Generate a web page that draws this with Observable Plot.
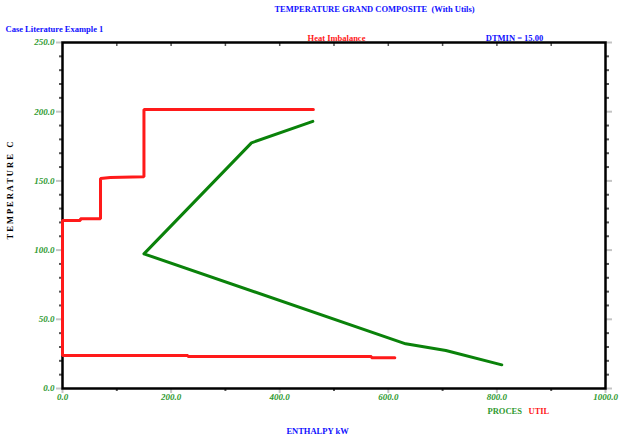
<!DOCTYPE html>
<html><head><meta charset="utf-8">
<script src="https://cdn.jsdelivr.net/npm/d3@7"></script>
<script src="https://cdn.jsdelivr.net/npm/@observablehq/plot@0.6"></script>
<style>body{margin:0;background:#fff}svg{display:block}</style>
</head><body><div id="chart"></div><script>
// Hot/cold utility (UTIL) polyline
const utilEnthalpy = [462, 150, 150, 88, 70, 70, 33, 33, 0, 0, 231, 231, 569, 569, 612];
const utilTemp     = [201.6, 201.6, 153.0, 152.4, 151.7, 122.6, 122.6, 121.4, 121.4, 23.8, 23.8, 23.2, 23.2, 22.3, 22.3];
// Process grand composite (PROCES)
const procEnthalpy = [461, 348, 150, 632, 706, 809];
const procTemp     = [193.0, 177.5, 97.3, 32.3, 27.5, 17.1];

const xMajor = [0, 200, 400, 600, 800, 1000];
const xMinor = [100, 300, 500, 700, 900];
const xTop   = [100, 200, 300, 400, 500, 600, 700, 800, 900];
const yMajor = [0, 50, 100, 150, 200, 250];
const yMinor = [10, 20, 30, 40, 60, 70, 80, 90, 110, 120, 130, 140, 160, 170, 180, 190, 210, 220, 230, 240];

const title = "TEMPERATURE GRAND COMPOSITE  (With Utils)";
const caseText = "Case Literature Example 1";
const imbalanceText = "Heat Imbalance";
const dtminText = "DTMIN = 15.00";
const xTitle = "ENTHALPY kW";
const yTitle = "T E M P E R A T U R E   C";
const procLabel = "PROCES";
const utilLabel = "UTIL";

const util = utilEnthalpy.map((h, i) => ({h, t: utilTemp[i]}));
const proc = procEnthalpy.map((h, i) => ({h, t: procTemp[i]}));

const FONT = "Liberation Serif, Times New Roman, serif";
const BLUE = "#1010ff", GREEN = "#2f9a2f", RED = "#ff1a1a";
const fmt = d => d.toFixed(1);
const lbl = (txt, o) => Plot.text([txt], {text: d => d, fontFamily: FONT, fontWeight: "bold", fontSize: 8.5, ...o});

const chart = Plot.plot({
  width: 623, height: 440,
  marginLeft: 62, marginRight: 18, marginTop: 42, marginBottom: 52,
  style: {fontFamily: FONT, background: "#fff", overflow: "visible"},
  x: {domain: [0, 1000], axis: null},
  y: {domain: [0, 250], axis: null},
  marks: [
    Plot.axisY(yMajor, {anchor: "left", tickSize: 6, tickPadding: 2, stroke: "#c4c4c4", strokeWidth: 2, fill: GREEN, tickFormat: fmt, fontStyle: "italic", fontWeight: "bold", fontSize: 9, label: null}),
    Plot.axisY(yMinor, {anchor: "left", tickSize: 3, stroke: "#555", strokeWidth: 2, tickFormat: () => "", label: null}),
    Plot.axisY(yMajor, {anchor: "right", tickSize: 6, stroke: "#c4c4c4", strokeWidth: 2, tickFormat: () => "", label: null}),
    Plot.axisY(yMinor, {anchor: "right", tickSize: 3, stroke: "#555", strokeWidth: 2, tickFormat: () => "", label: null}),
    Plot.axisX(xMajor, {anchor: "bottom", tickSize: 5, tickPadding: 0, stroke: "#c4c4c4", strokeWidth: 2, fill: GREEN, tickFormat: fmt, fontStyle: "italic", fontWeight: "bold", fontSize: 9, label: null}),
    Plot.axisX(xMinor, {anchor: "bottom", tickSize: 3, stroke: "#555", strokeWidth: 2, tickFormat: () => "", label: null}),
    Plot.axisX(xTop, {anchor: "top", tickSize: -3, stroke: "#555", strokeWidth: 1.5, tickFormat: () => "", label: null}),
    Plot.frame({stroke: "#000", strokeWidth: 2.5}),
    Plot.line(util, {x: "h", y: "t", stroke: RED, strokeWidth: 3, strokeLinejoin: "miter"}),
    Plot.line(proc, {x: "h", y: "t", stroke: "#0a820a", strokeWidth: 3}),
    lbl(title, {frameAnchor: "top-left", dx: 312, dy: -37, fill: BLUE, textAnchor: "middle"}),
    lbl(caseText, {frameAnchor: "top-left", dx: -57, dy: -17, fill: BLUE, textAnchor: "start"}),
    lbl(imbalanceText, {frameAnchor: "top-left", dx: 274, dy: -8, fill: RED, textAnchor: "middle"}),
    lbl(dtminText, {frameAnchor: "top-left", dx: 452, dy: -8, fill: BLUE, textAnchor: "middle"}),
    lbl(procLabel, {frameAnchor: "bottom-left", dx: 425, dy: 25, fill: GREEN, textAnchor: "start"}),
    lbl(utilLabel, {frameAnchor: "bottom-left", dx: 466, dy: 25, fill: RED, textAnchor: "start"}),
    lbl(xTitle, {frameAnchor: "bottom-left", dx: 255, dy: 45, fill: BLUE, textAnchor: "middle"}),
    lbl(yTitle, {frameAnchor: "left", dx: -52, dy: -25, fill: "#000", textAnchor: "middle", rotate: -90})
  ]
});
document.getElementById("chart").append(chart);
</script></body></html>
